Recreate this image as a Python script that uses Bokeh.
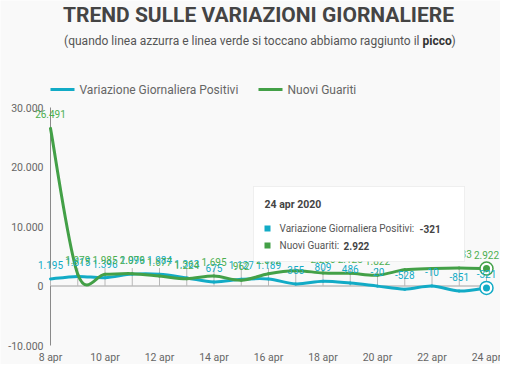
import numpy as np
from bokeh.plotting import figure
from bokeh.models import ColumnDataSource, LabelSet, Label, BoxAnnotation, Range1d
from bokeh.core.properties import value
from bokeh.embed import file_html
from bokeh.resources import INLINE

# ---------------- data ----------------
dates = ["2020-04-08", "2020-04-09", "2020-04-10", "2020-04-11", "2020-04-12", "2020-04-13",
         "2020-04-14", "2020-04-15", "2020-04-16", "2020-04-17", "2020-04-18", "2020-04-19",
         "2020-04-20", "2020-04-21", "2020-04-22", "2020-04-23", "2020-04-24"]
variazione_positivi = [1195, 1615, 1396, 1996, 1984, 1363, 675, 1127, 1189, 355, 809, 486,
                       -20, -528, -10, -851, -321]
nuovi_guariti = [26491, 1979, 1985, 2079, 1677, 1224, 1695, 962, 2072, 2563, 2200, 2128,
                 1822, 2723, 2943, 3033, 2922]
x_tick_labels = ["8 apr", "10 apr", "12 apr", "14 apr", "16 apr", "18 apr", "20 apr", "22 apr", "24 apr"]
y_ticks = [-10000, 0, 10000, 20000, 30000]
y_tick_labels = ["-10.000", "0", "10.000", "20.000", "30.000"]
series_names = ["Variazione Giornaliera Positivi", "Nuovi Guariti"]
title_text = "TREND SULLE VARIAZIONI GIORNALIERE"
subtitle_parts = ["(quando linea azzurra e linea verde si toccano abbiamo raggiunto il", "picco", ")"]
tooltip_title = "24 apr 2020"

# ---------------- style / geometry (pixels) ----------------
BLUE = "#12abc6"
GREEN = "#43a047"
GREEN_TXT = "#4caf50"
FONT = "Roboto"
BG = "#f9f9f9"
W, H = 500, 364
PLOT_LEFT = 50          # px of first day
PX_PER_DAY = 27.25
Y_TOP_PX, Y_BOT_PX = 107, 345   # px of y_ticks[-1] and y_ticks[0]
TICK_PX = 18


def it_fmt(v):
    return f"{v:,}".replace(",", ".")


x = np.arange(len(dates), dtype=float)
x_ticks = x[::2]

px_per_unit = (Y_BOT_PX - Y_TOP_PX) / (y_ticks[-1] - y_ticks[0])
x_range = Range1d(-PLOT_LEFT / PX_PER_DAY, (W - PLOT_LEFT) / PX_PER_DAY)
y_range = Range1d(y_ticks[0] - (H - Y_BOT_PX) / px_per_unit, y_ticks[-1] + Y_TOP_PX / px_per_unit)


def catmull_bezier(xs, ys):
    xs = np.asarray(xs, float)
    ys = np.asarray(ys, float)
    n = len(xs)
    xp = np.concatenate([[xs[0]], xs, [xs[-1]]])
    yp = np.concatenate([[ys[0]], ys, [ys[-1]]])
    d = {}
    for name, arr in (("x", xp), ("y", yp)):
        p0, p1, p2, p3 = arr[0:n - 1], arr[1:n], arr[2:n + 1], arr[3:n + 2]
        d[name + "0"] = p1
        d[name + "1"] = p2
        d["c" + name + "0"] = p1 + (p2 - p0) / 6.0
        d["c" + name + "1"] = p2 - (p3 - p1) / 6.0
    return ColumnDataSource(d)


p = figure(width=W, height=H, output_backend="svg", toolbar_location=None,
           x_range=x_range, y_range=y_range, x_axis_location=None, y_axis_location=None,
           min_border=0, background_fill_color=BG, border_fill_color=BG, outline_line_color=None)
p.grid.visible = False

# ---- axes drawn from the tick arrays ----
p.segment(x0=[x[0]], y0=[y_ticks[0]], x1=[x[0]], y1=[y_ticks[-1]], line_color="#8a8a8a", line_width=1)
p.segment(x0=[x[0]], y0=[0], x1=[x[-1]], y1=[0], line_color="#a0a0a0", line_width=1)
tick_h = TICK_PX / px_per_unit
p.segment(x0=x, y0=np.zeros_like(x), x1=x, y1=np.full_like(x, tick_h), line_color="#b8b8b8", line_width=1)

ylab = ColumnDataSource(dict(x=[x[0]] * len(y_ticks), y=y_ticks, t=y_tick_labels))
p.add_layout(LabelSet(x="x", y="y", text="t", source=ylab, x_offset=-7, text_align="right",
                      text_baseline="middle", text_font=value(FONT), text_font_size="10.5px",
                      text_color="#666666"))
xlab = ColumnDataSource(dict(x=x_ticks, y=[y_ticks[0]] * len(x_ticks), t=x_tick_labels))
p.add_layout(LabelSet(x="x", y="y", text="t", source=xlab, y_offset=-12, text_align="center",
                      text_baseline="middle", text_font=value(FONT), text_font_size="10.5px",
                      text_color="#666666"))

# ---- smooth lines ----
for vals, col in ((variazione_positivi, BLUE), (nuovi_guariti, GREEN)):
    p.bezier(x0="x0", y0="y0", x1="x1", y1="y1", cx0="cx0", cy0="cy0", cx1="cx1", cy1="cy1",
             source=catmull_bezier(x, vals), line_color=col, line_width=3, line_cap="round")

# ---- data labels ----
for vals, col in ((variazione_positivi, BLUE), (nuovi_guariti, GREEN_TXT)):
    src = ColumnDataSource(dict(x=x, y=vals, t=[it_fmt(v) for v in vals]))
    p.add_layout(LabelSet(x="x", y="y", text="t", source=src, y_offset=14, text_align="center",
                          text_baseline="middle", text_font=value(FONT), text_font_size="10px",
                          text_color=col))

# ---- last point markers ----
for vals, col in ((variazione_positivi, BLUE), (nuovi_guariti, GREEN)):
    p.scatter([x[-1]], [vals[-1]], size=13, fill_color="white", line_color=col, line_width=1.5)
    p.scatter([x[-1]], [vals[-1]], size=7, fill_color=col, line_color=None)


def sbox(left, right, bottom, top, **kw):
    return BoxAnnotation(left=left, right=right, bottom=bottom, top=top,
                         left_units="screen", right_units="screen",
                         top_units="screen", bottom_units="screen", **kw)


def slabel(x_, y_, text, **kw):
    kw.setdefault("text_font", FONT)
    kw.setdefault("text_baseline", "middle")
    return Label(x=x_, y=y_, x_units="screen", y_units="screen", text=text, **kw)


def sy(py):  # picture row -> screen y (from bottom)
    return H - py


# ---- titles ----
p.add_layout(slabel(258, sy(14), title_text, text_font_size="21px", text_font_style="bold",
                    text_color="#444444", text_align="center"))
p.add_layout(slabel(419, sy(40), subtitle_parts[0], text_font_size="12px", text_color="#555555",
                    text_align="right"))
p.add_layout(slabel(422, sy(40), subtitle_parts[1], text_font_size="12px", text_font_style="bold",
                    text_color="#333333"))
p.add_layout(slabel(451, sy(40), subtitle_parts[2], text_font_size="12px", text_color="#555555"))

# ---- legend ----
for (lx, col, name) in ((50, BLUE, series_names[0]), (258, GREEN, series_names[1])):
    p.add_layout(sbox(lx, lx + 24, sy(89) - 1.5, sy(89) + 1.5, fill_color=col, fill_alpha=1, line_color=None))
    p.add_layout(slabel(lx + 29, sy(89), name, text_font_size="12px", text_color="#666666"))

# ---- tooltip ----
p.add_layout(sbox(253, 464, sy(261), sy(186), fill_color="white", fill_alpha=1,
                  line_color="#d0d0d0", line_width=1))
p.add_layout(slabel(264, sy(204), tooltip_title, text_font_size="10.5px", text_font_style="bold",
                    text_color="#444444"))
rows = [(228, BLUE, series_names[0] + ":", it_fmt(variazione_positivi[-1]), 419),
        (245, GREEN, series_names[1] + ":", it_fmt(nuovi_guariti[-1]), 343)]
for py, col, name, val, vx in rows:
    p.add_layout(sbox(264, 270, sy(py) - 3, sy(py) + 3, fill_color=col, fill_alpha=1, line_color=None))
    p.add_layout(slabel(279, sy(py), name, text_font_size="10px", text_color="#555555"))
    p.add_layout(slabel(vx, sy(py), val, text_font_size="10px", text_font_style="bold", text_color="#444444"))

open("out.html", "w").write(file_html(p, INLINE))
